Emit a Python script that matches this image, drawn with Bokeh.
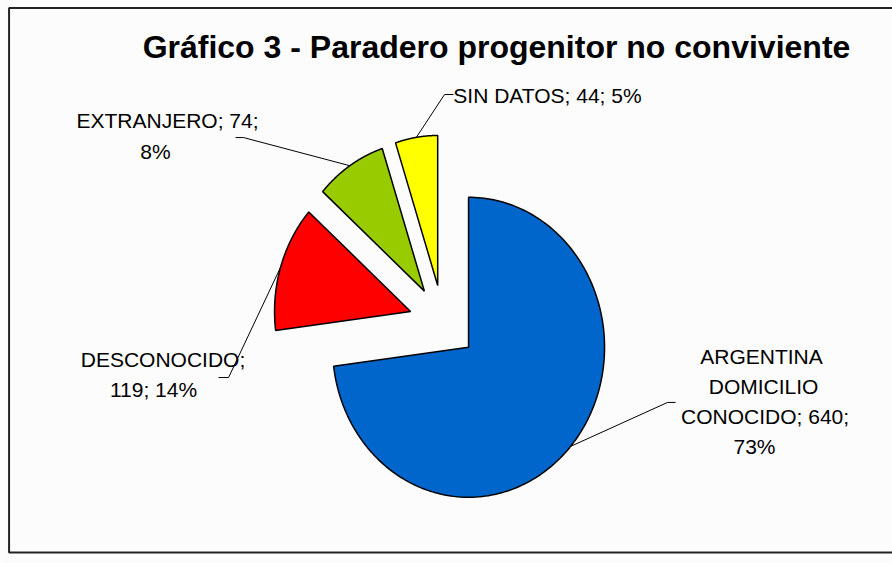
import numpy as np
from bokeh.plotting import figure
from bokeh.models import Range1d, ColumnDataSource
from bokeh.core.properties import value
from bokeh.embed import file_html
from bokeh.resources import INLINE

# ---------------- data ----------------
categories = ["ARGENTINA DOMICILIO CONOCIDO", "DESCONOCIDO", "EXTRANJERO", "SIN DATOS"]
counts = [640, 119, 74, 44]
percents = ["73%", "14%", "8%", "5%"]
colors = ["#0066CC", "#FF0000", "#99CC00", "#FFFF00"]
label_lines = [
    ["ARGENTINA", "DOMICILIO", "CONOCIDO; 640;", "73%"],
    ["DESCONOCIDO;", "119; 14%"],
    ["EXTRANJERO; 74;", "8%"],
    ["SIN DATOS; 44; 5%"],
]
title_text = "Gráfico 3 - Paradero progenitor no conviviente"

# ---------------- layout (data units: pie radius = 1) ----------------
EXPLODE = 0.25
label_x = [[2.342, 2.357, 2.368, 2.290], [-2.059, -2.129], [-2.026, -2.114], [0.768]]
label_y = [[-0.227, -0.427, -0.627, -0.827], [-0.25, -0.45], [1.349, 1.142], [1.513]]
elbow = [(1.651, -0.533), (-1.577, -0.367), (-1.467, 1.233), (0.011, 1.52)]
elbow_end = [(1.710, -0.533), (-1.651, -0.367), (-1.526, 1.233), (0.077, 1.52)]

p = figure(width=892, height=563, output_backend="svg", toolbar_location=None,
           x_range=Range1d(-3.254, 3.305), y_range=Range1d(-1.607, 2.147),
           min_border=0, tools="")
p.axis.visible = False
p.grid.visible = False
p.background_fill_color = "#fcfcfc"
p.border_fill_color = "white"
p.outline_line_color = None

# chart-area frame (right edge lies outside the picture)
p.quad(left=[-3.191], right=[3.6], top=[2.097], bottom=[-1.533],
       fill_color="#fcfcfc", line_color="#222222", line_width=2)

total = float(sum(counts))
fr = np.array(counts) / total
ends = np.cumsum(fr) * 2 * np.pi
starts = ends - fr * 2 * np.pi

xs, ys, lxs, lys = [], [], [], []
for i in range(len(counts)):
    a0, a1 = starts[i], ends[i]
    mid = 0.5 * (a0 + a1)
    ox, oy = EXPLODE * np.sin(mid), EXPLODE * np.cos(mid)
    t = np.linspace(a0, a1, 200)
    xs.append([ox] + list(ox + np.sin(t)) + [ox])
    ys.append([oy] + list(oy + np.cos(t)) + [oy])
    sx, sy = ox + np.sin(mid), oy + np.cos(mid)
    lxs.append([sx, elbow[i][0], elbow_end[i][0]])
    lys.append([sy, elbow[i][1], elbow_end[i][1]])

p.multi_line(lxs, lys, line_color="black", line_width=1)
p.patches(xs, ys, fill_color=colors, line_color="black", line_width=1.5)

tx, ty, tt = [], [], []
for i in range(len(label_lines)):
    for j, s in enumerate(label_lines[i]):
        tx.append(label_x[i][j]); ty.append(label_y[i][j]); tt.append(s)
src = ColumnDataSource(dict(x=tx, y=ty, text=tt))
p.text("x", "y", "text", source=src, text_font=value("Liberation Sans"),
       text_font_size=value("21px"), text_align="center", text_baseline="middle",
       text_color="black")

p.text([0.393], [1.84], [title_text], text_font=value("Liberation Sans"),
       text_font_size=value("32px"), text_font_style="bold", text_align="center",
       text_baseline="middle", text_color="black")

open("out.html", "w").write(file_html(p, INLINE))
